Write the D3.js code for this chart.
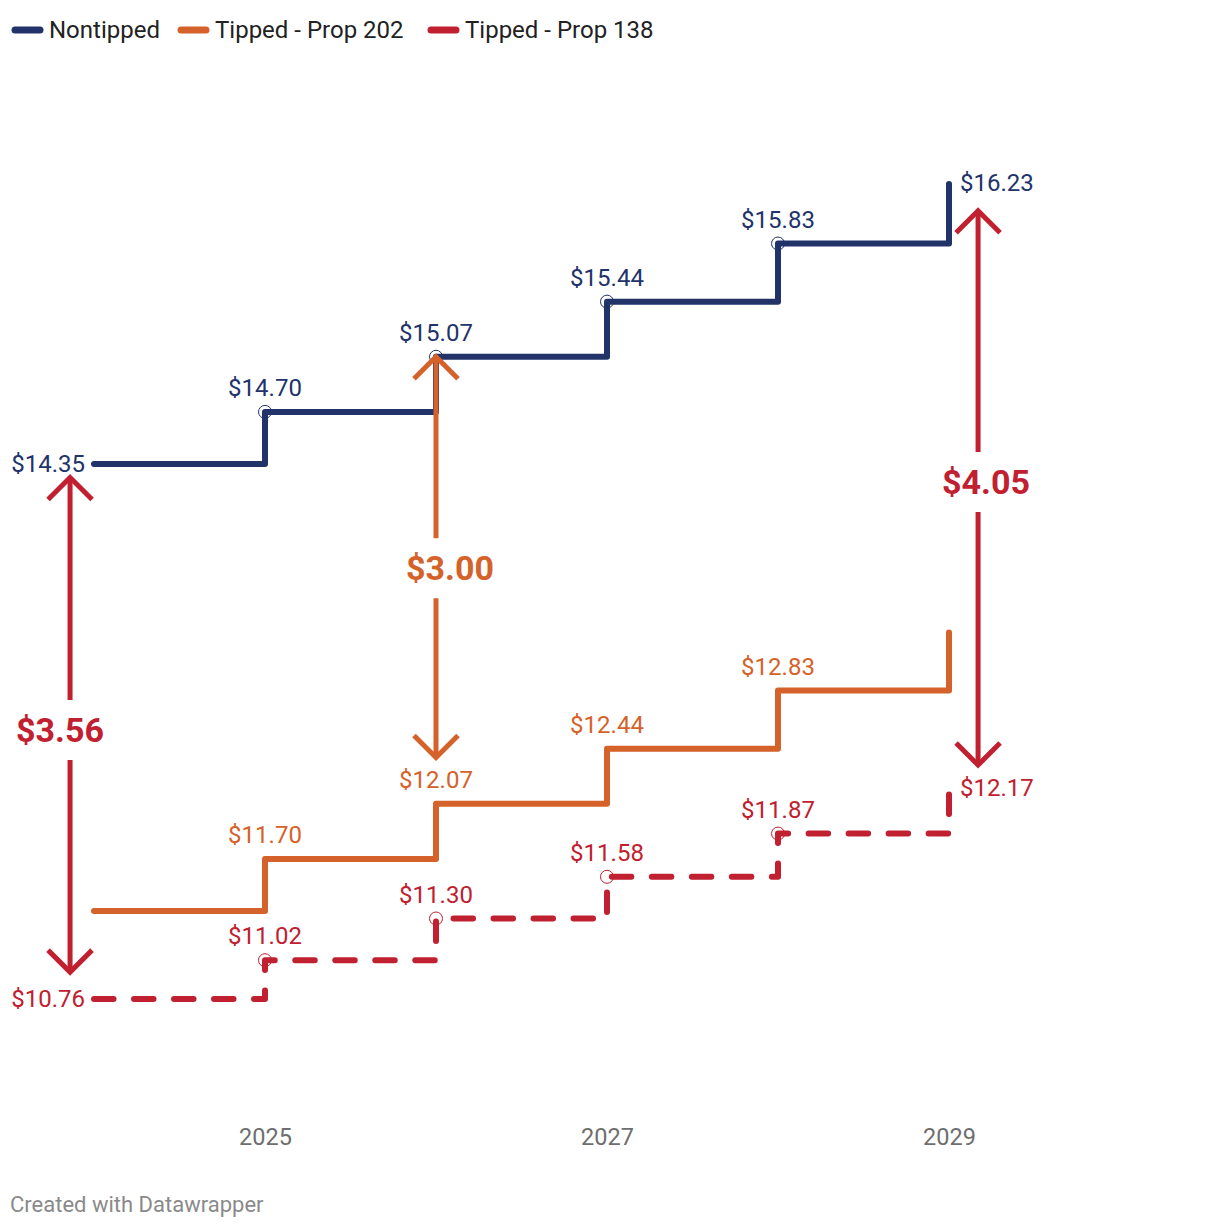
<!DOCTYPE html>
<html><head><meta charset="utf-8">
<script src="https://cdn.jsdelivr.net/npm/d3@7"></script>
<style>body{margin:0;background:#fff;font-family:Roboto,"Noto Sans",sans-serif}</style>
</head><body><svg id="c" width="1220" height="1228"></svg>
<script>
const years = [2024, 2025, 2026, 2027, 2028, 2029];
const nontipped = [14.35, 14.70, 15.07, 15.44, 15.83, 16.23];
const prop202 = [11.35, 11.70, 12.07, 12.44, 12.83, 13.22];
const prop138 = [10.76, 11.02, 11.30, 11.58, 11.87, 12.17];
const seriesNames = ["Nontipped", "Tipped - Prop 202", "Tipped - Prop 138"];
const tickYears = [2025, 2027, 2029];
const gapLabels = ["$3.56", "$3.00", "$4.05"];
// annotation arrows: x (year), top value, bottom value, label value position
const arrowX = [2023.86, 2026, 2029.17];
const arrowTop = [14.26, 15.07, 16.05];
const arrowBottom = [10.94, 12.38, 12.33];
const arrowLabelAt = [12.565, 13.65, 14.23];

const colors = ["#22336a", "#d5622a", "#c0202f"];
const svg = d3.select("#c");
const x = d3.scaleLinear().domain([2024, 2029]).range([94, 949]);
const y = d3.scaleLinear().domain([10, 17]).range([1112.2, 69.2]);

// legend
const legX = [12, 178, 428];
seriesNames.forEach((n, i) => {
  const g = svg.append("g");
  g.append("line").attr("x1", legX[i] + 3).attr("x2", legX[i] + 28).attr("y1", 30).attr("y2", 30)
    .attr("stroke", colors[i]).attr("stroke-width", 7).attr("stroke-linecap", "round");
  g.append("text").attr("x", legX[i] + 37).attr("y", 30).attr("dy", "0.35em")
    .attr("font-size", 24).attr("fill", "#222").text(n);
});

// axis
const axis = d3.axisBottom(x).tickValues(tickYears).tickFormat(d3.format("d")).tickSize(0);
const ag = svg.append("g").attr("transform", "translate(0,1125)").call(axis);
ag.select(".domain").remove();
ag.selectAll("text").attr("font-size", 23.5).attr("fill", "#6e6e6e").attr("font-family", "Roboto");

const line = d3.line().x((d, i) => x(years[i])).y(d => y(d)).curve(d3.curveStepAfter);
const data = [nontipped, prop202, prop138];

// circles behind lines
[0, 2].forEach(si => {
  svg.append("g").selectAll("circle").data(data[si].slice(1, 5)).join("circle")
    .attr("cx", (d, i) => x(years[i + 1])).attr("cy", d => y(d)).attr("r", 6.5)
    .attr("fill", "#fff").attr("stroke", colors[si]).attr("stroke-width", 1);
});

data.forEach((vals, si) => {
  svg.append("path").attr("d", line(vals)).attr("fill", "none")
    .attr("stroke", colors[si]).attr("stroke-width", 6)
    .attr("stroke-linecap", "round").attr("stroke-linejoin", "round")
    .attr("stroke-dasharray", si === 2 ? "19.5 20.5" : null);
});

// value labels
const fmt = v => "$" + v.toFixed(2);
data.forEach((vals, si) => {
  vals.forEach((v, i) => {
    if (si === 1 && (i === 0 || i === 5)) return;
    const t = svg.append("text").attr("fill", colors[si]).attr("font-size", 24).text(fmt(v));
    if (i === 0) {
      t.attr("x", x(years[i]) - 9).attr("y", y(v)).attr("dy", "0.35em").attr("text-anchor", "end");
    } else if (i === 5) {
      t.attr("x", x(years[i]) + 11).attr("y", y(v) - 1).attr("dy", "0.35em").attr("text-anchor", "start");
    } else {
      t.attr("x", x(years[i])).attr("y", y(v) - 16).attr("text-anchor", "middle");
    }
  });
});

// arrows
const arrowColors = [colors[2], colors[1], colors[2]];
const labelDx = [-10, 14, 8];
arrowX.forEach((ax, i) => {
  const c = arrowColors[i];
  const px = x(ax), t = y(arrowTop[i]), b = y(arrowBottom[i]), m = y(arrowLabelAt[i]);
  const g = svg.append("g").attr("stroke", c).attr("stroke-width", 5).attr("fill", "none");
  g.append("line").attr("x1", px).attr("x2", px).attr("y1", t + 2).attr("y2", m - 30);
  g.append("line").attr("x1", px).attr("x2", px).attr("y1", m + 30).attr("y2", b - 2);
  g.append("path").attr("d", `M${px - 22},${t + 22}L${px},${t}L${px + 22},${t + 22}`);
  g.append("path").attr("d", `M${px - 22},${b - 22}L${px},${b}L${px + 22},${b - 22}`);
  svg.append("text").attr("x", px + labelDx[i]).attr("y", m).attr("dy", "0.35em")
    .attr("text-anchor", "middle").attr("font-size", 34).attr("font-weight", "bold")
    .attr("fill", c).text(gapLabels[i]);
});

svg.append("text").attr("x", 10).attr("y", 1212).attr("font-size", 22).attr("fill", "#8a8a8a")
  .text("Created with Datawrapper");
</script></body></html>
